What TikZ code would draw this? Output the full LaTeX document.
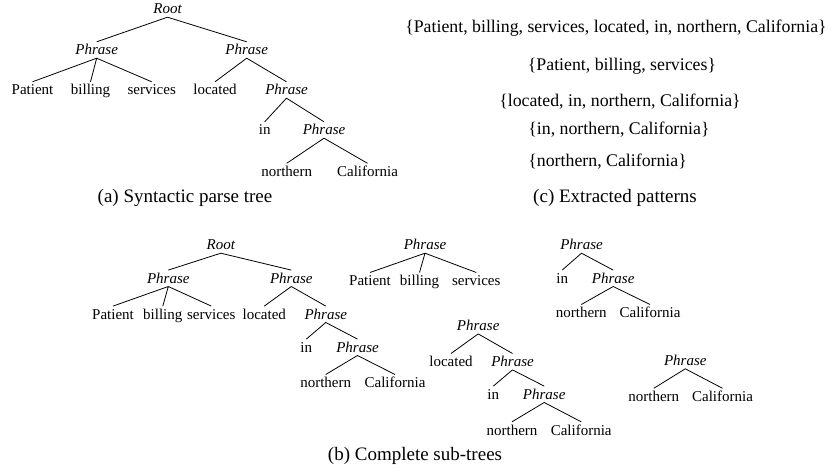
\documentclass[tikz,border=0pt]{standalone}
\usepackage{fontspec}
\setmainfont{Liberation Serif}
\usepackage{tikz}
\usetikzlibrary{positioning}

\begin{document}
\begin{tikzpicture}[
        x=1pt, y=-1pt,
        word/.style={inner sep=2pt, font=\fontsize{15}{18}\selectfont, text height=11pt, text depth=1pt},
        phrase/.style={word, font=\fontsize{15}{18}\selectfont\itshape},
        patline/.style={inner sep=0pt, font=\fontsize{17.8}{21}\selectfont},
        subcap/.style={inner sep=0pt, font=\fontsize{19}{23}\selectfont},
        branch/.style={line width=0.8pt}
    ]
        \useasboundingbox (0,0) rectangle (833,473);

        % (a) SYNTACTIC PARSE TREE
        \node[phrase] (a_root) at (167.5,9) {Root};
        \node[phrase] (a_left) at (96.7,50) {Phrase};
        \node[phrase] (a_right) at (246.7,50) {Phrase};
        \node[word] (a_patient) at (32.5,90) {Patient};
        \node[word] (a_billing) at (90.5,90) {billing};
        \node[word] (a_services) at (151.7,90) {services};
        \node[word] (a_located) at (215,90) {located};
        \node[phrase] (a_loc) at (286.5,90) {Phrase};
        \node[word] (a_in) at (264.7,130) {in};
        \node[phrase] (a_inph) at (324,130) {Phrase};
        \node[word] (a_northern) at (286.7,171.5) {northern};
        \node[word] (a_california) at (367.5,171.5) {California};
        \node[subcap] (cap_a) at (185,198) {(a) Syntactic parse tree};

        % (c) EXTRACTED PATTERNS
        \node[patline] (pat_all) at (616,28.3) {\{Patient, billing, services, located, in, northern, California\}};
        \node[patline] (pat_pbs) at (622,66.7) {\{Patient, billing, services\}};
        \node[patline] (pat_loc) at (620,101.7) {\{located, in, northern, California\}};
        \node[patline] (pat_in) at (619,130) {\{in, northern, California\}};
        \node[patline, anchor=west] (pat_nc) at ([yshift=-31.7pt]pat_in.west) {\{northern, California\}};
        \node[subcap] (cap_c) at (615,198) {(c) Extracted patterns};

        % (b) COMPLETE SUB-TREES
        % whole tree
        \node[phrase] (b_root) at (220.8,245) {Root};
        \node[phrase] (b_left) at (168.3,278.3) {Phrase};
        \node[phrase] (b_right) at (291.3,278.3) {Phrase};
        \node[word] (b_patient) at (113,314.3) {Patient};
        \node[word] (b_billing) at (162.8,314.3) {billing};
        \node[word] (b_services) at (211.3,314.3) {services};
        \node[word] (b_located) at (264.3,314.3) {located};
        \node[phrase] (b_loc) at (325.8,314.3) {Phrase};
        \node[word] (b_in) at (306.3,347.3) {in};
        \node[phrase] (b_inph) at (357.5,347.3) {Phrase};
        \node[word] (b_northern) at (325.7,382.7) {northern};
        \node[word] (b_california) at (395,382.7) {California};

        % patient billing services
        \node[phrase] (pbs_ph) at (425,245) {Phrase};
        \node[word] (pbs_patient) at (370,280.7) {Patient};
        \node[word] (pbs_billing) at (419.5,280.7) {billing};
        \node[word] (pbs_services) at (476.3,280.7) {services};

        % in northern california
        \node[phrase] (inc_ph) at (581.5,245) {Phrase};
        \node[word] (inc_in) at (562.2,278.3) {in};
        \node[phrase] (inc_nc) at (613.2,278.3) {Phrase};
        \node[word] (inc_northern) at (581.3,312.7) {northern};
        \node[word] (inc_california) at (650,312.7) {California};

        % located in northern california
        \node[phrase] (loc_ph) at (478.2,325.7) {Phrase};
        \node[word] (loc_located) at (451,361.7) {located};
        \node[phrase] (loc_in) at (512.5,361.7) {Phrase};
        \node[word] (loc_inword) at (493.3,394.3) {in};
        \node[phrase] (loc_nc) at (544.2,394.3) {Phrase};
        \node[word] (loc_northern) at (512,430) {northern};
        \node[word] (loc_california) at (581.2,430) {California};

        % northern california
        \node[phrase] (nc_ph) at (685.3,360.6) {Phrase};
        \node[word] (nc_northern) at (653.8,396.5) {northern};
        \node[word] (nc_california) at (722.5,396.5) {California};

        \node[subcap] (cap_b) at (415,456) {(b) Complete sub-trees};

        % BRANCHES
        \draw[branch] (a_root.south) -- (a_left.north) (a_root.south) -- (a_right.north);
        \draw[branch] (a_left.south) -- (a_patient.north) (a_left.south) -- (a_billing.north) (a_left.south) -- (a_services.north);
        \draw[branch] (a_right.south) -- (a_located.north) (a_right.south) -- (a_loc.north);
        \draw[branch] (a_loc.south) -- (a_in.north) (a_loc.south) -- (a_inph.north);
        \draw[branch] (a_inph.south) -- (a_northern.north) (a_inph.south) -- (a_california.north);

        \draw[branch] (b_root.south) -- (b_left.north) (b_root.south) -- (b_right.north);
        \draw[branch] (b_left.south) -- (b_patient.north) (b_left.south) -- (b_billing.north) (b_left.south) -- (b_services.north);
        \draw[branch] (b_right.south) -- (b_located.north) (b_right.south) -- (b_loc.north);
        \draw[branch] (b_loc.south) -- (b_in.north) (b_loc.south) -- (b_inph.north);
        \draw[branch] (b_inph.south) -- (b_northern.north) (b_inph.south) -- (b_california.north);

        \draw[branch] (pbs_ph.south) -- (pbs_patient.north) (pbs_ph.south) -- (pbs_billing.north) (pbs_ph.south) -- (pbs_services.north);

        \draw[branch] (inc_ph.south) -- (inc_in.north) (inc_ph.south) -- (inc_nc.north);
        \draw[branch] (inc_nc.south) -- (inc_northern.north) (inc_nc.south) -- (inc_california.north);

        \draw[branch] (loc_ph.south) -- (loc_located.north) (loc_ph.south) -- (loc_in.north);
        \draw[branch] (loc_in.south) -- (loc_inword.north) (loc_in.south) -- (loc_nc.north);
        \draw[branch] (loc_nc.south) -- (loc_northern.north) (loc_nc.south) -- (loc_california.north);

        \draw[branch] (nc_ph.south) -- (nc_northern.north) (nc_ph.south) -- (nc_california.north);
    \end{tikzpicture}
\end{document}
